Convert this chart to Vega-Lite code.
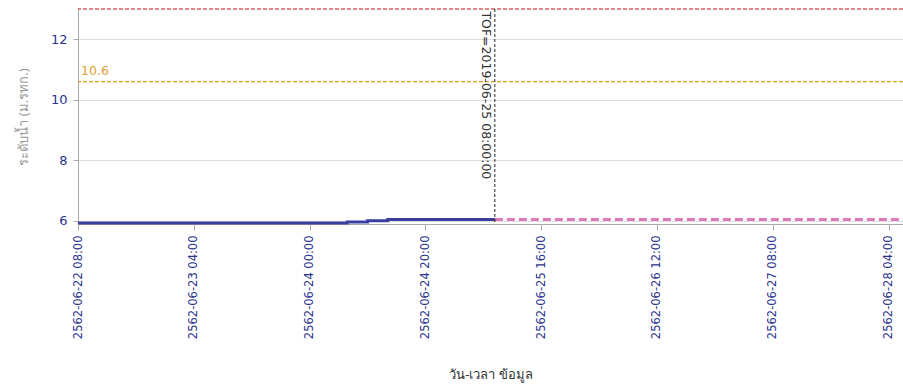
{
  "$schema": "https://vega.github.io/schema/vega-lite/v6.json",
  "autosize": {"type": "none"},
  "padding": {"left": 78, "top": 9, "right": 0, "bottom": 161},
  "width": 825,
  "height": 215,
  "background": "white",
  "config": {
    "view": {"stroke": null},
    "font": "DejaVu Sans"
  },
  "datasets": {
    "obs": [
      {"t": "2019-06-22T08:00:00", "v": 5.93},
      {"t": "2019-06-24T06:30:00", "v": 5.97},
      {"t": "2019-06-24T10:00:00", "v": 6.01},
      {"t": "2019-06-24T13:30:00", "v": 6.05},
      {"t": "2019-06-25T08:00:00", "v": 6.05}
    ],
    "fc": [
      {"t": "2019-06-25T08:00:00", "v": 6.05},
      {"t": "2019-06-28T06:30:00", "v": 6.05}
    ],
    "levels": [
      {"level": 13, "kind": "top", "label": ""},
      {"level": 10.6, "kind": "warn", "label": "10.6"}
    ],
    "tof": [
      {"t": "2019-06-25T08:00:00", "top": 12.92, "label": "TOF=2019-06-25 08:00:00"}
    ]
  },
  "layer": [
    {
      "data": {"name": "obs"},
      "mark": {"type": "line", "interpolate": "step-after", "color": "#3a3f9f", "strokeWidth": 3},
      "encoding": {
        "x": {
          "field": "t", "type": "temporal",
          "scale": {"domain": [{"year": 2019, "month": 6, "date": 22, "hours": 8}, {"year": 2019, "month": 6, "date": 28, "hours": 6, "minutes": 30}]},
          "axis": {
            "title": "วัน-เวลา ข้อมูล",
            "titleFont": "Noto Sans",
            "titleFontWeight": "normal",
            "titleFontSize": 13,
            "titleColor": "#333333",
            "titlePadding": 30,
            "format": "2562-%m-%d %H:%M",
            "values": [
              {"year": 2019, "month": 6, "date": 22, "hours": 8},
              {"year": 2019, "month": 6, "date": 23, "hours": 4},
              {"year": 2019, "month": 6, "date": 24, "hours": 0},
              {"year": 2019, "month": 6, "date": 24, "hours": 20},
              {"year": 2019, "month": 6, "date": 25, "hours": 16},
              {"year": 2019, "month": 6, "date": 26, "hours": 12},
              {"year": 2019, "month": 6, "date": 27, "hours": 8},
              {"year": 2019, "month": 6, "date": 28, "hours": 4}
            ],
            "labelAngle": 270,
            "labelAlign": "right",
            "labelBaseline": "middle",
            "labelColor": "#2b3390",
            "labelFontSize": 11.5,
            "labelPadding": 5,
            "labelFlush": false,
            "labelOverlap": false,
            "tickColor": "#aaaaaa",
            "tickSize": 6,
            "domainColor": "#aaaaaa",
            "grid": false
          }
        },
        "y": {
          "field": "v", "type": "quantitative",
          "scale": {"domain": [5.9, 13], "nice": false, "zero": false},
          "axis": {
            "title": "ระดับน้ำ (ม.รทก.)",
            "titleFont": "Noto Sans",
            "titleFontWeight": "normal",
            "titleFontSize": 13,
            "titleColor": "#999999",
            "titlePadding": 20,
            "values": [6, 7, 8, 9, 10, 11, 12],
            "labelExpr": "datum.value % 2 == 0 ? datum.label : ''",
            "labelColor": "#2b3390",
            "labelFontSize": 13,
            "labelPadding": 6,
            "tickColor": "#aaaaaa",
            "tickSize": 5,
            "domainColor": "#aaaaaa",
            "grid": true,
            "gridColor": "#dddddd",
            "gridOpacity": {"condition": {"test": "datum.value % 2 == 0", "value": 1}, "value": 0}
          }
        }
      }
    },
    {
      "data": {"name": "fc"},
      "mark": {"type": "line", "color": "#e07ab8", "strokeWidth": 3, "strokeDash": [8, 4], "clip": true},
      "encoding": {
        "x": {"field": "t", "type": "temporal"},
        "y": {"field": "v", "type": "quantitative"}
      }
    },
    {
      "data": {"name": "levels"},
      "mark": {"type": "rule", "strokeWidth": 1.2, "strokeDash": [4, 2]},
      "encoding": {
        "y": {"field": "level", "type": "quantitative"},
        "color": {"field": "kind", "type": "nominal", "scale": {"domain": ["top", "warn"], "range": ["#c41010", "#dc9a28"]}, "legend": null}
      }
    },
    {
      "data": {"name": "levels"},
      "transform": [{"filter": "datum.label != ''"}],
      "mark": {"type": "text", "align": "left", "baseline": "bottom", "dx": 3, "dy": -4, "fontSize": 12.5, "color": "#e0a030"},
      "encoding": {
        "x": {"datum": {"year": 2019, "month": 6, "date": 22, "hours": 8}, "type": "temporal"},
        "y": {"field": "level", "type": "quantitative"},
        "text": {"field": "label"}
      }
    },
    {
      "data": {"name": "tof"},
      "mark": {"type": "rule", "color": "#222222", "strokeWidth": 1, "strokeDash": [3, 2]},
      "encoding": {
        "x": {"field": "t", "type": "temporal"}
      }
    },
    {
      "data": {"name": "tof"},
      "mark": {"type": "text", "angle": 90, "align": "left", "baseline": "top", "dy": 3, "fontSize": 12.5, "color": "#333333"},
      "encoding": {
        "x": {"field": "t", "type": "temporal"},
        "y": {"field": "top", "type": "quantitative"},
        "text": {"field": "label"}
      }
    }
  ]
}
